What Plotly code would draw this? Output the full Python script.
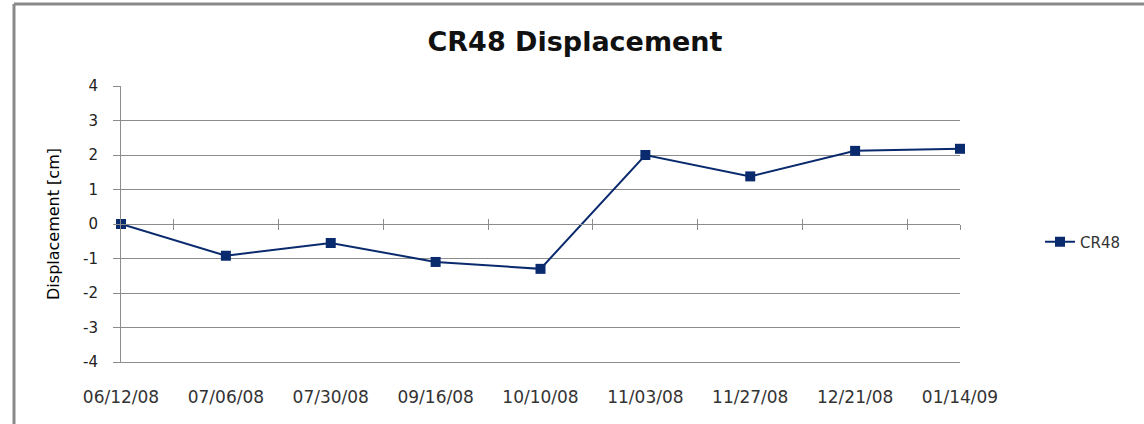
import plotly.graph_objects as go

dates = ["06/12/08", "07/06/08", "07/30/08", "09/16/08", "10/10/08",
         "11/03/08", "11/27/08", "12/21/08", "01/14/09"]
cr48 = [0.0, -0.92, -0.55, -1.1, -1.3, 2.0, 1.38, 2.12, 2.18]
y_ticks = [-4, -3, -2, -1, 0, 1, 2, 3, 4]
y_labels = [str(v) for v in y_ticks]

W, H = 1144, 424
L, R, T, B = 121, 184, 86, 62
pw, ph = W - L - R, H - T - B

idx = list(range(len(dates)))
mid = [i + 0.5 for i in idx[:-1]] + [idx[-1]]

NAVY = "#0A2A6E"
GRID = "#8C8C8C"
FONT = "DejaVu Sans"

fig = go.Figure()
fig.add_trace(go.Scatter(
    x=idx, y=cr48, mode="lines+markers", name="CR48",
    line=dict(color=NAVY, width=2),
    marker=dict(symbol="square", size=10, color=NAVY),
    cliponaxis=False,
))
# helper traces so the crossing axis at y=0 is drawn
fig.add_trace(go.Scatter(x=[0, 8], y=[0, 0], xaxis="x2", mode="none",
                         showlegend=False, hoverinfo="skip"))
fig.add_trace(go.Scatter(x=[0, 8], y=[0, 0], xaxis="x3", mode="none",
                         showlegend=False, hoverinfo="skip"))

fig.update_layout(
    width=W, height=H,
    margin=dict(l=L, r=R, t=T, b=B),
    paper_bgcolor="white", plot_bgcolor="white",
    font=dict(family=FONT, color="#222", size=15),
    title=dict(text="<b>CR48 Displacement</b>", x=575 / W, xanchor="center",
               y=1 - 42 / H, yanchor="middle",
               font=dict(family=FONT, size=27, color="#111")),
    showlegend=True,
    legend=dict(x=(1040 - L) / pw, y=(362 - 242) / ph, xanchor="left",
                yanchor="middle", font=dict(family=FONT, size=15, color="#333"),
                bgcolor="rgba(0,0,0,0)"),
    xaxis=dict(range=[0, 8], tickvals=idx, ticktext=dates, ticks="",
               showgrid=False, zeroline=False, showline=True,
               linecolor=GRID, linewidth=1, mirror=False,
               ticklabelstandoff=20,
               tickfont=dict(family=FONT, size=17, color="#333")),
    xaxis2=dict(range=[0, 8], overlaying="x", anchor="free", position=0.5,
                side="bottom", tickvals=mid, ticks="outside", ticklen=5,
                tickcolor=GRID, showticklabels=False, showgrid=False,
                zeroline=False, showline=True, linecolor=GRID, linewidth=1),
    xaxis3=dict(range=[0, 8], overlaying="x", anchor="free", position=0.5,
                side="bottom", tickvals=mid, ticks="inside", ticklen=5,
                tickcolor=GRID, showticklabels=False, showgrid=False,
                zeroline=False, showline=False),
    yaxis=dict(range=[-4, 4], tickvals=y_ticks, ticktext=y_labels,
               ticks="outside", ticklen=7,
               tickcolor=GRID, showgrid=True, gridcolor=GRID, gridwidth=1,
               zeroline=False, showline=True, linecolor=GRID, linewidth=1,
               ticklabelstandoff=12,
               tickfont=dict(family=FONT, size=15, color="#222"),
               title=dict(text="Displacement [cm]", standoff=19,
                          font=dict(family=FONT, size=16, color="#000"))),
)

# outer chart frame (left and top edges visible)
bx = (14 - L) / pw
ty = (362 - 4) / ph
fig.add_shape(type="line", xref="paper", yref="paper", x0=bx, x1=bx,
              y0=-0.4, y1=ty, line=dict(color="#8A8A8A", width=3))
fig.add_shape(type="line", xref="paper", yref="paper", x0=bx, x1=1.4,
              y0=ty, y1=ty, line=dict(color="#8A8A8A", width=3))

fig.write_html("out.html", config={"displayModeBar": False},
               post_script="document.body.style.margin='0';")
